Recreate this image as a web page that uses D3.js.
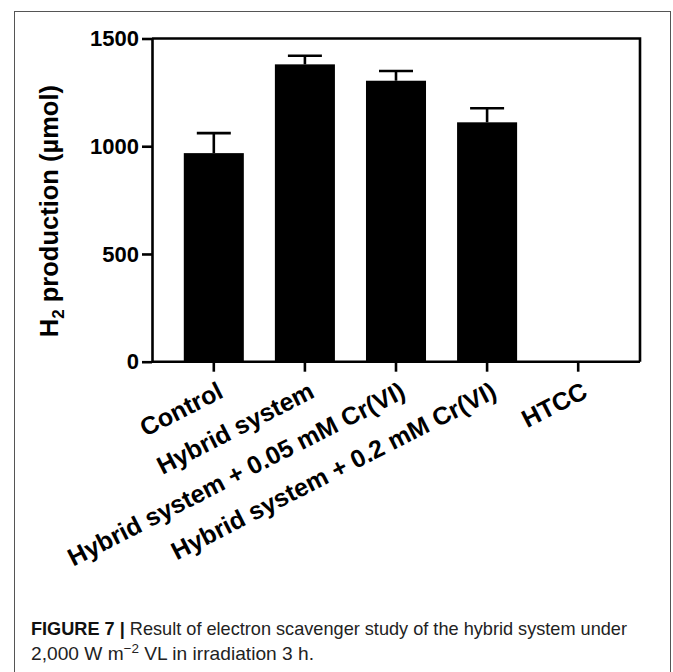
<!DOCTYPE html>
<html>
<head>
<meta charset="utf-8">
<script src="https://cdn.jsdelivr.net/npm/d3@7"></script>
<style>
  html, body { margin: 0; padding: 0; background: #fff; }
  svg { display: block; }
  .axis text { font-family: "Liberation Sans", Arial, sans-serif; font-weight: bold; fill: #000; }
</style>
</head>
<body>
<svg id="chart" width="673" height="672"></svg>
<script>
// H2 production per condition (µmol), mean and upper SD
const categories = [
  "Control",
  "Hybrid system",
  "Hybrid system + 0.05 mM Cr(VI)",
  "Hybrid system + 0.2 mM Cr(VI)",
  "HTCC"
];
const means = [968, 1380, 1304, 1111, 0];
const errors = [93, 40, 45, 65, 0];
const yTicks = [0, 500, 1000, 1500];

const svg = d3.select("#chart");

// figure frame
svg.append("rect")
  .attr("x", 14.5).attr("y", 11.5)
  .attr("width", 656).attr("height", 700)
  .attr("fill", "none").attr("stroke", "#555").attr("stroke-width", 1);

const plot = { left: 152, right: 640, top: 38.5, bottom: 361.7 };

const x = d3.scaleBand()
  .domain(categories)
  .range([plot.left, plot.right])
  .paddingInner(0.341)
  .paddingOuter(0.349);

const y = d3.scaleLinear()
  .domain([0, 1500])
  .range([plot.bottom, plot.top]);

const data = categories.map((c, i) => ({ cat: c, mean: means[i], err: errors[i] }));

// bars
svg.append("g").selectAll("rect")
  .data(data)
  .join("rect")
  .attr("x", d => x(d.cat))
  .attr("width", x.bandwidth())
  .attr("y", d => y(d.mean))
  .attr("height", d => y(0) - y(d.mean))
  .attr("fill", "#000");

// upper error whiskers with caps
const eb = svg.append("g").attr("stroke", "#000").attr("stroke-width", 2.6).attr("fill", "none");
const withErr = data.filter(d => d.err > 0);
eb.selectAll("line.v")
  .data(withErr)
  .join("line")
  .attr("class", "v")
  .attr("x1", d => x(d.cat) + x.bandwidth() / 2)
  .attr("x2", d => x(d.cat) + x.bandwidth() / 2)
  .attr("y1", d => y(d.mean))
  .attr("y2", d => y(d.mean + d.err));
eb.selectAll("line.cap")
  .data(withErr)
  .join("line")
  .attr("class", "cap")
  .attr("x1", d => x(d.cat) + x.bandwidth() / 2 - 17)
  .attr("x2", d => x(d.cat) + x.bandwidth() / 2 + 17)
  .attr("y1", d => y(d.mean + d.err))
  .attr("y2", d => y(d.mean + d.err));

// top and right sides of the plot box
svg.append("path")
  .attr("d", `M${plot.left},${plot.top}H${plot.right}V${plot.bottom}`)
  .attr("fill", "none").attr("stroke", "#000").attr("stroke-width", 2.6);

// y axis
const yAxis = svg.append("g")
  .attr("class", "axis")
  .attr("transform", `translate(${plot.left},0)`)
  .call(d3.axisLeft(y).tickValues(yTicks).tickFormat(d3.format("d")).tickSize(10).tickPadding(3).tickSizeOuter(0));
yAxis.selectAll("path, line").attr("stroke", "#000").attr("stroke-width", 2.6);
yAxis.selectAll("text").attr("font-size", 22);

// x axis
const xAxis = svg.append("g")
  .attr("class", "axis")
  .attr("transform", `translate(0,${plot.bottom})`)
  .call(d3.axisBottom(x).tickSize(10).tickSizeOuter(0));
xAxis.select("path.domain")
  .attr("d", `M${plot.left},0H${plot.right}`);
xAxis.selectAll("path, line").attr("stroke", "#000").attr("stroke-width", 2.6);
xAxis.selectAll("text")
  .attr("font-size", 25)
  .attr("text-anchor", "end")
  .attr("dy", null)
  .attr("y", null)
  .attr("transform", "translate(11,35) rotate(-27)");

// y axis title
const yt = svg.append("text")
  .attr("transform", `translate(58,${(plot.top + plot.bottom) / 2 + 11}) rotate(-90)`)
  .attr("text-anchor", "middle")
  .attr("font-family", "Liberation Sans, Arial, sans-serif")
  .attr("font-weight", "bold")
  .attr("font-size", 25.5)
  .attr("fill", "#000");
yt.append("tspan").text("H");
yt.append("tspan").attr("font-size", 17).attr("dy", 6).text("2");
yt.append("tspan").attr("dy", -6).text(" production (µmol)");

// caption
const cap = svg.append("g")
  .attr("font-family", "Liberation Sans, Arial, sans-serif")
  .attr("font-size", 18.5)
  .attr("fill", "#222");
const l1 = cap.append("text").attr("x", 31).attr("y", 635)
  .attr("textLength", 596).attr("lengthAdjust", "spacingAndGlyphs");
l1.append("tspan").attr("font-weight", "bold").attr("fill", "#111").text("FIGURE 7 | ");
l1.append("tspan").text("Result of electron scavenger study of the hybrid system under");
const l2 = cap.append("text").attr("x", 31).attr("y", 660)
  .attr("textLength", 283).attr("lengthAdjust", "spacingAndGlyphs");
l2.append("tspan").text("2,000 W m");
l2.append("tspan").attr("font-size", 13).attr("dy", -7).text("−2");
l2.append("tspan").attr("dy", 7).text(" VL in irradiation 3 h.");
</script>
</body>
</html>
